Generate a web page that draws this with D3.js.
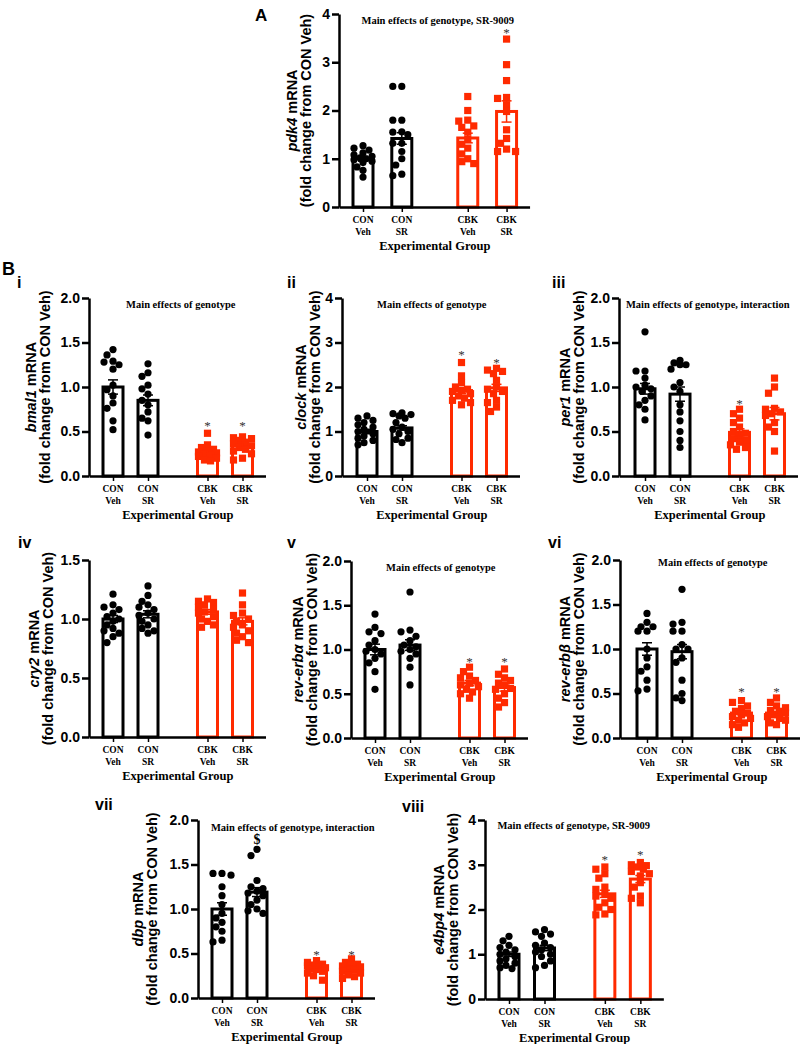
<!DOCTYPE html>
<meta charset="utf-8">
<script src="https://d3js.org/d3.v7.min.js"></script>
<style>
body { margin: 0; background: #fff; }
text { fill: #000; }
.tick text { font: bold 14px "Liberation Sans", Arial, sans-serif; }
.ylab { font: bold 14.5px "Liberation Sans", Arial, sans-serif; }
.serif { font-family: "Liberation Serif", "Times New Roman", serif; font-weight: bold; }
.letter { font: bold 17px "Liberation Sans", Arial, sans-serif; }
</style>
<body>
<script>

// groups
var topLabels = ["CON", "CON", "CBK", "CBK"];
var bottomLabels = ["Veh", "SR", "Veh", "SR"];

// pdk4 (A)
var pdk4Points = [
  [1.27,1.22,1.18,1.12,1.08,1.05,1.02,1.0,0.98,0.95,0.92,0.83,0.76,0.62],
  [2.5,2.5,1.8,1.8,1.56,1.55,1.5,1.32,1.32,1.15,1.0,0.87,0.68,0.65],
  [2.29,2.0,1.8,1.78,1.68,1.65,1.55,1.4,1.3,1.22,1.1,1.0,0.94,0.9],
  [3.48,2.95,2.62,2.27,2.25,2.12,1.98,1.6,1.42,1.32,1.2,1.15,1.15]
];
var pdk4Means = [1.0, 1.42, 1.43, 1.98];
var pdk4Sem = [0.05, 0.12, 0.1, 0.22];
var pdk4Marks = [null, null, null, "*"];
var pdk4MarkY = [0, 0, 0, 3.67];

// bmal1 (i)
var bmal1Points = [
  [1.42,1.36,1.29,1.28,1.25,1.2,1.02,0.97,0.9,0.82,0.76,0.62,0.52],
  [1.26,1.16,1.12,1.02,0.98,0.92,0.85,0.8,0.72,0.65,0.62,0.46],
  [0.48,0.35,0.32,0.3,0.28,0.27,0.26,0.25,0.24,0.22,0.2,0.18,0.17],
  [0.44,0.43,0.42,0.4,0.38,0.36,0.34,0.32,0.3,0.28,0.25,0.2,0.18]
];
var bmal1Means = [1.0, 0.85, 0.27, 0.35];
var bmal1Sem = [0.08, 0.06, 0.02, 0.03];
var bmal1Marks = [null, null, "*", "*"];
var bmal1MarkY = [0, 0, 0.6, 0.6];

// clock (ii)
var clockPoints = [
  [1.35,1.3,1.25,1.2,1.15,1.1,1.05,1.0,0.95,0.9,0.85,0.8,0.75,0.7],
  [1.42,1.4,1.38,1.35,1.3,1.2,1.1,1.05,1.0,0.95,0.85,0.82,0.75],
  [2.55,2.25,2.1,2.0,1.95,1.92,1.9,1.85,1.8,1.75,1.7,1.65,1.6],
  [2.42,2.38,2.35,2.3,2.15,2.0,1.95,1.9,1.85,1.7,1.65,1.55,1.45]
];
var clockMeans = [1.0, 1.08, 1.92, 1.98];
var clockSem = [0.05, 0.05, 0.07, 0.08];
var clockMarks = [null, null, "*", "*"];
var clockMarkY = [0, 0, 2.79, 2.6];

// per1 (iii)
var per1Points = [
  [1.62,1.18,1.18,1.1,1.02,1.0,0.98,0.95,0.9,0.85,0.8,0.75,0.63],
  [1.3,1.27,1.25,1.25,1.2,1.05,1.0,0.95,0.8,0.72,0.62,0.5,0.4,0.32],
  [0.75,0.7,0.65,0.6,0.55,0.5,0.48,0.45,0.42,0.4,0.38,0.35,0.32,0.3],
  [1.1,1.0,0.93,0.76,0.75,0.72,0.7,0.68,0.6,0.55,0.5,0.28]
];
var per1Means = [0.98, 0.92, 0.49, 0.7];
var per1Sem = [0.06, 0.08, 0.04, 0.07];
var per1Marks = [null, null, "*", null];
var per1MarkY = [0, 0, 0.85, 0];

// cry2 (iv)
var cry2Points = [
  [1.21,1.12,1.1,1.08,1.05,1.02,1.0,0.98,0.95,0.92,0.9,0.88,0.85,0.8],
  [1.28,1.2,1.15,1.12,1.1,1.08,1.05,1.03,1.0,0.98,0.95,0.92,0.9,0.88],
  [1.17,1.15,1.14,1.12,1.1,1.08,1.06,1.05,1.02,1.0,0.98,0.95,0.93],
  [1.22,1.12,1.05,1.03,1.0,0.98,0.95,0.93,0.9,0.88,0.85,0.82,0.8]
];
var cry2Means = [1.0, 1.04, 1.06, 0.98];
var cry2Sem = [0.03, 0.03, 0.02, 0.03];
var cry2Marks = [null, null, null, null];
var cry2MarkY = [0, 0, 0, 0];

// rev-erb alpha (v)
var reaPoints = [
  [1.4,1.25,1.2,1.18,1.1,1.05,1.0,0.98,0.95,0.9,0.85,0.75,0.55],
  [1.65,1.22,1.2,1.15,1.1,1.05,1.03,1.0,0.98,0.95,0.9,0.8,0.6],
  [0.8,0.75,0.7,0.68,0.65,0.62,0.6,0.58,0.55,0.52,0.5,0.45],
  [0.78,0.72,0.68,0.65,0.62,0.6,0.56,0.55,0.5,0.45,0.4,0.35]
];
var reaMeans = [1.0, 1.05, 0.62, 0.57];
var reaSem = [0.06, 0.06, 0.03, 0.04];
var reaMarks = [null, null, "*", "*"];
var reaMarkY = [0, 0, 0.9, 0.9];

// rev-erb beta (vi)
var rebPoints = [
  [1.4,1.3,1.25,1.25,1.2,1.2,1.0,0.9,0.8,0.75,0.65,0.55,0.53],
  [1.67,1.3,1.28,1.2,1.2,1.05,1.0,1.0,0.9,0.85,0.65,0.5,0.45,0.42],
  [0.42,0.4,0.36,0.33,0.3,0.28,0.26,0.24,0.22,0.2,0.17,0.15,0.12],
  [0.45,0.4,0.36,0.34,0.31,0.3,0.28,0.26,0.24,0.22,0.2,0.17,0.15]
];
var rebMeans = [1.0, 0.97, 0.28, 0.28];
var rebSem = [0.07, 0.08, 0.02, 0.02];
var rebMarks = [null, null, "*", "*"];
var rebMarkY = [0, 0, 0.55, 0.55];

// dbp (vii)
var dbpPoints = [
  [1.4,1.4,1.38,1.25,1.15,1.05,0.95,0.9,0.85,0.8,0.75,0.65,0.63],
  [1.67,1.6,1.32,1.25,1.23,1.2,1.18,1.15,1.1,1.05,1.0,0.98,0.95],
  [0.42,0.4,0.38,0.37,0.36,0.35,0.34,0.33,0.32,0.3,0.28,0.25,0.2],
  [0.44,0.4,0.38,0.37,0.36,0.35,0.33,0.32,0.3,0.28,0.26,0.24,0.22]
];
var dbpMeans = [1.0, 1.19, 0.34, 0.33];
var dbpSem = [0.07, 0.05, 0.02, 0.02];
var dbpMarks = [null, "$", "*", "*"];
var dbpMarkY = [0, 1.78, 0.52, 0.52];

// e4bp4 (viii)
var e4bp4Points = [
  [1.4,1.3,1.2,1.15,1.1,1.05,1.0,0.95,0.9,0.85,0.8,0.75,0.7,0.68],
  [1.55,1.5,1.45,1.4,1.25,1.2,1.15,1.1,1.05,1.0,0.95,0.85,0.75,0.7],
  [2.95,2.9,2.8,2.7,2.5,2.45,2.35,2.3,2.25,2.15,2.05,2.0,1.9,1.88],
  [3.05,3.0,2.98,2.95,2.9,2.85,2.8,2.75,2.6,2.5,2.3,2.25,2.15]
];
var e4bp4Means = [1.0, 1.14, 2.35, 2.68];
var e4bp4Sem = [0.05, 0.06, 0.08, 0.08];
var e4bp4Marks = [null, null, "*", "*"];
var e4bp4MarkY = [0, 0, 3.17, 3.28];

var black = "#000", red = "#ff2a00";
var slots = [0, 1, 2.7, 3.7];

// panel layout
var panels = [
  {letter: "A", lx: 255, ly: 21, gene: "pdk4", title: "Main effects of genotype, SR-9009", titleDy: 10, titleDx: 3,
   pts: pdk4Points, means: pdk4Means, sem: pdk4Sem, marks: pdk4Marks, markY: pdk4MarkY,
   x0: 339, top: 14, bottom: 207, pad: 24, unit: 38.8, ymax: 4, step: 1, fmt: "d", lab2: 33},
  {letter: "i", lx: 17, ly: 288, gene: "bmal1", title: "Main effects of genotype", titleDy: 10, titleDx: 3,
   pts: bmal1Points, means: bmal1Means, sem: bmal1Sem, marks: bmal1Marks, markY: bmal1MarkY,
   x0: 89, top: 298, bottom: 476, pad: 24, unit: 35, ymax: 2, step: 0.5, fmt: ".1f", lab2: 44},
  {letter: "ii", lx: 287, ly: 288, gene: "clock", title: "Main effects of genotype", titleDy: 10, titleDx: 0,
   pts: clockPoints, means: clockMeans, sem: clockSem, marks: clockMarks, markY: clockMarkY,
   x0: 342, top: 298, bottom: 476, pad: 25, unit: 35, ymax: 4, step: 1, fmt: "d", lab2: 27},
  {letter: "iii", lx: 552, ly: 288, gene: "per1", title: "Main effects of genotype, interaction", titleDy: 10, titleDx: -2,
   pts: per1Points, means: per1Means, sem: per1Sem, marks: per1Marks, markY: per1MarkY,
   x0: 619, top: 298, bottom: 476, pad: 26, unit: 35, ymax: 2, step: 0.5, fmt: ".1f", lab2: 40},
  {letter: "iv", lx: 18, ly: 548, gene: "cry2", title: null,
   pts: cry2Points, means: cry2Means, sem: cry2Sem, marks: cry2Marks, markY: cry2MarkY,
   x0: 89, top: 560, bottom: 737, pad: 24, unit: 35, ymax: 1.5, step: 0.5, fmt: ".1f", lab2: 41},
  {letter: "v", lx: 287, ly: 548, gene: "rev-erb\u03b1", title: "Main effects of genotype", titleDy: 10, titleDx: 1,
   pts: reaPoints, means: reaMeans, sem: reaSem, marks: reaMarks, markY: reaMarkY,
   x0: 351, top: 561, bottom: 738, pad: 24, unit: 35, ymax: 2, step: 0.5, fmt: ".1f", lab2: 39},
  {letter: "vi", lx: 548, ly: 548, gene: "rev-erb\u03b2", title: "Main effects of genotype", titleDy: 6, titleDx: 1,
   pts: rebPoints, means: rebMeans, sem: rebSem, marks: rebMarks, markY: rebMarkY,
   x0: 620, top: 560, bottom: 738, pad: 27, unit: 35, ymax: 2, step: 0.5, fmt: ".1f", lab2: 41},
  {letter: "vii", lx: 95, ly: 810, gene: "dbp", title: "Main effects of genotype, interaction", titleDy: 11, titleDx: 6,
   pts: dbpPoints, means: dbpMeans, sem: dbpSem, marks: dbpMarks, markY: dbpMarkY,
   x0: 198, top: 820, bottom: 998, pad: 24, unit: 35, ymax: 2, step: 0.5, fmt: ".1f", lab2: 46},
  {letter: "viii", lx: 402, ly: 812, gene: "e4bp4", title: "Main effects of genotype, SR-9009", titleDy: 9, titleDx: -1,
   pts: e4bp4Points, means: e4bp4Means, sem: e4bp4Sem, marks: e4bp4Marks, markY: e4bp4MarkY,
   x0: 485, top: 820, bottom: 999, pad: 24, unit: 35.5, ymax: 4, step: 1, fmt: "d", lab2: 32}
];

var svg = d3.select("body").append("svg")
    .attr("width", 800)
    .attr("height", 1044);

svg.append("text").attr("class", "letter").attr("x", 2).attr("y", 275)
    .style("font-size", "18px").text("B");

// spread points sideways like a scatter column
function spread(vals, y) {
  var cands = [0, -6, 6, -3, 3, -9, 9];
  var placed = [];
  var out = [];
  var order = vals.map(function(v, i) { return i; })
      .sort(function(a, b) { return vals[b] - vals[a]; });
  order.forEach(function(i) {
    var py = y(vals[i]);
    var best = 0, bestD = -1;
    for (var k = 0; k < cands.length; k++) {
      var c = cands[k], dmin = Infinity;
      placed.forEach(function(p) {
        var d = Math.hypot(p.x - c, p.y - py);
        if (d < dmin) dmin = d;
      });
      if (dmin >= 6.5) { best = c; break; }
      if (dmin > bestD) { bestD = dmin; best = c; }
    }
    placed.push({x: best, y: py});
    out[i] = best;
  });
  return out;
}

panels.forEach(function(p) {
  var g = svg.append("g");
  var lastX = p.x0 + p.pad + slots[3] * p.unit;
  var endX = lastX + 23;

  var x = d3.scaleLinear()
      .domain([-p.pad / p.unit, (endX - p.x0 - p.pad) / p.unit])
      .range([p.x0, endX]);
  var y = d3.scaleLinear().domain([0, p.ymax]).range([p.bottom, p.top]);

  var ticks = d3.range(0, p.ymax + p.step / 2, p.step);

  // bars
  g.selectAll("rect.bar")
    .data(p.means)
    .enter().append("rect")
      .attr("class", "bar")
      .attr("x", function(d, i) { return x(slots[i]) - 10; })
      .attr("width", 20)
      .attr("y", function(d) { return y(d); })
      .attr("height", function(d) { return p.bottom - y(d); })
      .style("fill", "#fff")
      .style("stroke", function(d, i) { return i < 2 ? black : red; })
      .style("stroke-width", 3);

  // points
  p.pts.forEach(function(vals, gi) {
    var offs = spread(vals, y);
    var cx = x(slots[gi]);
    if (gi < 2) {
      g.selectAll(null).data(vals).enter().append("circle")
        .attr("cx", function(d, i) { return cx + offs[i]; })
        .attr("cy", function(d) { return y(d); })
        .attr("r", 3.6)
        .style("fill", black);
    } else {
      g.selectAll(null).data(vals).enter().append("rect")
        .attr("x", function(d, i) { return cx + offs[i] - 3.6; })
        .attr("y", function(d) { return y(d) - 3.6; })
        .attr("width", 7.2)
        .attr("height", 7.2)
        .style("fill", red);
    }
  });

  // error bars (SEM)
  p.means.forEach(function(m, i) {
    var cx = x(slots[i]);
    var col = i < 2 ? black : red;
    var hi = y(m + p.sem[i]), lo = y(m - p.sem[i]);
    g.append("line").attr("x1", cx).attr("x2", cx).attr("y1", hi).attr("y2", lo)
      .style("stroke", col).style("stroke-width", 1.5);
    [hi, lo].forEach(function(yy) {
      g.append("line").attr("x1", cx - 5).attr("x2", cx + 5).attr("y1", yy).attr("y2", yy)
        .style("stroke", col).style("stroke-width", 1.5);
    });
  });

  // significance marks
  p.marks.forEach(function(m, i) {
    if (!m) return;
    g.append("text")
      .attr("class", "serif")
      .attr("x", x(slots[i]))
      .attr("y", y(p.markY[i]))
      .attr("dy", m === "*" ? "0.55em" : "0.35em")
      .attr("text-anchor", "middle")
      .style("font-size", m === "*" ? "13px" : "14px")
      .style("font-weight", m === "*" ? "normal" : "bold")
      .style("fill", m === "*" ? "#333" : "#000")
      .text(m);
  });

  // y axis
  var ya = g.append("g")
    .attr("transform", "translate(" + p.x0 + ",0)")
    .call(d3.axisLeft(y).tickValues(ticks).tickSize(7).tickSizeOuter(0)
      .tickPadding(2).tickFormat(d3.format(p.fmt)));
  ya.select(".domain").style("stroke-width", 2.5);
  ya.selectAll(".tick line").style("stroke-width", 2.5);

  // x axis
  var xa = g.append("g")
    .attr("transform", "translate(0," + p.bottom + ")")
    .call(d3.axisBottom(x).tickValues(slots).tickSize(5).tickSizeOuter(0).tickFormat(""));
  xa.select(".domain").style("stroke-width", 2.5);
  xa.selectAll(".tick line").style("stroke-width", 1.5);

  // group labels
  slots.forEach(function(s, i) {
    g.append("text").attr("class", "serif").attr("x", x(s)).attr("y", p.bottom + 16)
      .attr("text-anchor", "middle").style("font-size", "9.5px").text(topLabels[i]);
    g.append("text").attr("class", "serif").attr("x", x(s)).attr("y", p.bottom + 28)
      .attr("text-anchor", "middle").style("font-size", "9.5px").text(bottomLabels[i]);
  });
  var mid = (x(slots[0]) + x(slots[3])) / 2;
  g.append("text").attr("class", "serif").attr("x", mid).attr("y", p.bottom + 43)
    .attr("text-anchor", "middle").style("font-size", "12.5px").text("Experimental Group");

  // title
  if (p.title) {
    g.append("text").attr("class", "serif").attr("x", mid + p.titleDx).attr("y", p.top + p.titleDy)
      .attr("text-anchor", "middle").style("font-size", "10.5px").text(p.title);
  }

  // y label
  var cy = (p.top + p.bottom) / 2;
  var l1 = g.append("text").attr("class", "ylab")
    .attr("transform", "translate(" + (p.x0 - p.lab2 - 14) + "," + cy + ") rotate(-90)")
    .attr("text-anchor", "middle").attr("dominant-baseline", "central");
  l1.append("tspan").style("font-style", "italic").text(p.gene);
  l1.append("tspan").text(" mRNA");
  g.append("text").attr("class", "ylab")
    .attr("transform", "translate(" + (p.x0 - p.lab2) + "," + cy + ") rotate(-90)")
    .attr("text-anchor", "middle").attr("dominant-baseline", "central")
    .text("(fold change from CON Veh)");

  // panel letter
  g.append("text").attr("class", "letter").attr("x", p.lx).attr("y", p.ly)
    .style("font-size", p.letter === "A" ? "17px" : "16px").text(p.letter);
});

</script>
</body>
</html>
